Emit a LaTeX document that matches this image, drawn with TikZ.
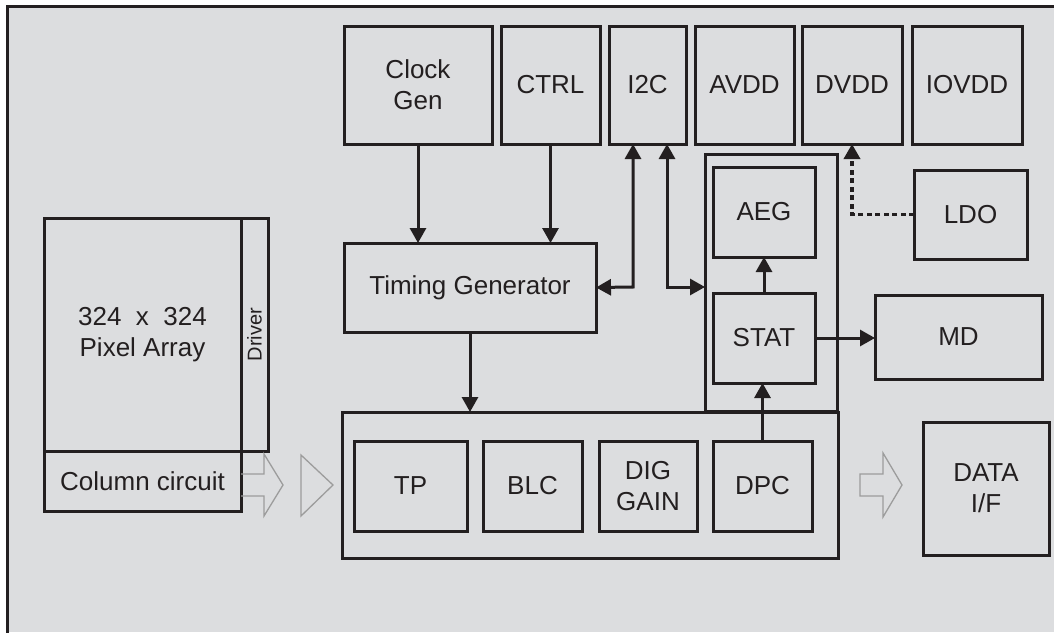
\documentclass[tikz,border=0pt]{standalone}
\usepackage{fontspec}
\setmainfont{Liberation Sans}
\usetikzlibrary{arrows.meta}
\definecolor{bg}{HTML}{DCDDDF}
\definecolor{ink}{HTML}{231F20}
\definecolor{hollow}{HTML}{9C9C9C}
\begin{document}
\begin{tikzpicture}[x=1pt,y=-1pt,
  box/.style={draw=ink, line width=3pt, inner sep=0pt, outer sep=0pt, text=ink,
    font=\fontsize{26}{31}\selectfont, align=center},
  tip/.style={Triangle[length=15pt,width=16pt]},
  conn/.style={draw=ink, line width=3pt, -{Triangle[length=15pt,width=16pt]}},
  biconn/.style={draw=ink, line width=3pt, {Triangle[length=15pt,width=16pt]}-{Triangle[length=15pt,width=16pt]}},
  dotconn/.style={draw=ink, line width=3.5pt, dash pattern=on 5pt off 3.5pt, -{Triangle[length=15pt,width=16pt]}},
  hol/.style={draw=hollow, line width=1.3pt, line join=miter}
]
\useasboundingbox (0,0) rectangle (1054,632);
\fill[white] (0,0) rectangle (1054,632);
\fill[bg] (7,6) rectangle (1054,632);
\draw[ink, line width=3pt] (7,640) -- (7,6) -- (1060,6);

% top row
\node[box, minimum width=148pt, minimum height=118pt] (clk)   at (418,85)   {Clock\\Gen};
\node[box, minimum width=99pt,  minimum height=118pt] (ctrl)  at (550.5,85) {CTRL};
\node[box, minimum width=77pt,  minimum height=118pt] (i2c)   at (647.5,85) {I2C};
\node[box, minimum width=99pt,  minimum height=118pt] (avdd)  at (744.5,85) {AVDD};
\node[box, minimum width=100pt, minimum height=118pt] (dvdd)  at (852,85)   {DVDD};
\node[box, minimum width=110pt, minimum height=118pt] (iovdd) at (967,85)   {IOVDD};

% timing generator
\node[box, minimum width=252pt, minimum height=89pt] (tg) at (470,287.5) {Timing Generator};

% pixel array, driver, column circuit
\node[box, minimum width=197pt, minimum height=233pt] (pix) at (142.5,334.5) {324~~x~~324\\Pixel Array};
\node[box, minimum width=27pt,  minimum height=233pt] (drv) at (254.5,334.5) {};
\node[text=ink, font=\fontsize{20}{23}\selectfont, rotate=90, inner sep=0pt] (drvtxt) at (drv.center) {Driver};
\node[box, minimum width=197pt, minimum height=60pt] (col) at (142.5,481) {Column circuit};

% STAT group
\node[box, minimum width=132pt, minimum height=257pt] (sgrp) at (771,282.5) {};
\node[box, minimum width=102pt, minimum height=90pt] (aeg)  at (764,212) {AEG};
\node[box, minimum width=102pt, minimum height=90pt] (stat) at (764,338) {STAT};

% LDO, MD
\node[box, minimum width=113pt, minimum height=89pt] (ldo) at (970.5,214.5) {LDO};
\node[box, minimum width=167pt, minimum height=84pt] (md)  at (958.5,337)   {MD};

% processing block
\node[box, minimum width=496pt, minimum height=146pt] (proc) at (590,485) {};
\node[box, minimum width=113pt, minimum height=90pt] (tp)  at (410.5,486) {TP};
\node[box, minimum width=99pt,  minimum height=90pt] (blc) at (532.5,486) {BLC};
\node[box, minimum width=98pt,  minimum height=90pt] (dig) at (648,486)   {DIG\\GAIN};
\node[box, minimum width=99pt,  minimum height=90pt] (dpc) at (762.5,486) {DPC};

% data interface
\node[box, minimum width=126pt, minimum height=133pt] (data) at (986,488.5) {DATA\\I/F};

% connectors
\draw[conn] (clk.south) -- (tg.north -| clk.south);
\draw[conn] (ctrl.south) -- (tg.north -| ctrl.south);
\draw[conn] (tg.south) -- (proc.north -| tg.south);
\coordinate (i2ca) at (633,144);
\coordinate (i2cb) at (667,144);
\draw[biconn] (i2ca) -- (633,287) -- (tg.east);
\draw[biconn] (i2cb) -- (667,287) -- (sgrp.west |- 0,287);
\draw[conn] (stat.north) -- (aeg.south);
\draw[conn] (dpc.north) -- (stat.south -| dpc.north);
\draw[conn] (stat.east) -- (md.west |- stat.east);
\draw[dotconn] (ldo.west) -- (ldo.west -| dvdd.south) -- (dvdd.south);

% hollow data-flow arrows
\draw[hol] (241,474) -- (264,474) -- (264,454) -- (283,485) -- (264,516) -- (264,496) -- (241,496);
\draw[hol] (301,455) -- (333,485) -- (301,516) -- cycle;
\draw[hol] (860,474) -- (883,474) -- (883,453) -- (902,485) -- (883,517) -- (883,496) -- (860,496) -- cycle;
\end{tikzpicture}
\end{document}
